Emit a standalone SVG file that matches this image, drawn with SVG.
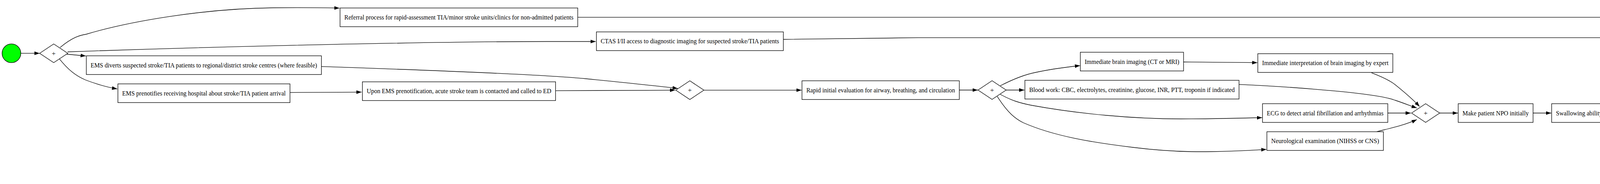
<svg xmlns="http://www.w3.org/2000/svg" width="7668" height="472" viewBox="0 0 7668 472">
<style>
.task rect{fill:#fff;stroke:#000;stroke-width:1.33}
.gw polygon{fill:#fff;stroke:#000;stroke-width:1.33}
text{font-family:"Liberation Serif","Times New Roman",serif;font-size:17.5px;fill:#000;text-anchor:middle}
.edges path{fill:none;stroke:#000;stroke-width:1.33;marker-end:url(#arr)}
</style>
<defs>
<marker id="arr" markerUnits="userSpaceOnUse" markerWidth="14" markerHeight="10" refX="13.3" refY="4.67" orient="auto">
<path d="M0,0 L13.3,4.67 L0,9.33 z" fill="#000"/>
</marker>
</defs>
<rect width="7668" height="472" fill="#fff"/>
<g class="edges">
<path d="M53.3,136.7 L101.5,136.7"/>
<path d="M154,121.7 C185,96 205,90 220,88 C330,55 520,22 700,20 C780,19 830,20 869,20.7"/>
<path d="M173,133 C600,118 1100,107 1400,106.5 L1525,106.5"/>
<path d="M171,139 L219.6,143.5"/>
<path d="M151.8,150.7 C175,180 195,195 218.7,205 C250,217 275,224 300,228"/>
<path d="M822.8,170.7 C1100,180 1400,192 1500,202 C1620,214 1690,221 1735,227"/>
<path d="M742.4,237.3 L925.7,236.3"/>
<path d="M1422.3,232.7 L1728.5,231.3"/>
<path d="M1801.8,231.3 L2052,231.3"/>
<path d="M2455.8,231 L2503,231"/>
<path d="M2560.7,220 C2590,205 2620,192 2650,186 C2700,175 2740,171 2765,168.3"/>
<path d="M2575.4,231 L2622.3,231"/>
<path d="M2560.7,242 C2590,258 2610,264 2640,270 C2760,292 2900,305 3023,305 C3120,305 3180,303 3231,301.7"/>
<path d="M2553,247.3 C2580,290 2600,305 2620,315 C2700,350 2800,366 2900,378 C2980,388 3050,390 3100,389 C3170,388 3210,385 3242,383.3"/>
<path d="M3029.9,159 L3218.8,160.7"/>
<path d="M3511,186.7 C3540,198 3560,208 3571,216.7 C3600,240 3620,258 3634,273.3"/>
<path d="M3171.9,216.7 C3300,222 3450,235 3500,242.7 C3540,248 3560,253 3571,257 C3595,265 3612,272 3627,277"/>
<path d="M3552.7,290 L3611.6,290"/>
<path d="M3524.5,337.7 C3550,331 3595,322 3627,306.7"/>
<path d="M3685.3,290 L3732,290"/>
<path d="M3924.6,290 L3971,290"/>
<path d="M4408.9,290 L4455.4,290"/>
<path d="M4512.5,279.3 L4592.9,232.7"/>
<path d="M4528.6,290.7 L4576.3,291.5"/>
<path d="M4649.6,220.7 L4695.5,220.7"/>
<path d="M4635.3,209.3 C4660,196 4675,191 4691,188 C4800,165 4940,148 5016,149 C5100,150 5200,168 5300,185 C5340,194 5360,200 5380,212.3"/>
<path d="M5318.3,223.3 L5364.3,223.3"/>
<path d="M4649.6,292.7 L5364.3,295"/>
<path d="M4641,299 L4811.6,328.3"/>
<path d="M5194.6,328.3 L5372.3,299.3"/>
<path d="M5423.2,234.3 L5500.4,279.3"/>
<path d="M5438,294.3 L5484.8,292.3"/>
<path d="M5551.8,285 C5570,279 5590,275 5600,273 L5789.7,235"/>
<path d="M5558.5,290.7 C5900,285 6600,270 7000,266 C7020,265.8 7040,265.7 7055,265.7"/>
<path d="M5554,297.7 C5570,302 5585,305 5600,308.3 L5691.5,328.3"/>
<path d="M5917,376.7 C6150,440 6450,468 6635,467 C6900,465 7200,400 7380,335 C7440,310 7455,296 7465,285 C7490,258 7507,232 7519.3,200"/>
<path d="M5852,225 L6198,182.7"/>
<path d="M5855.8,230 L6256,230"/>
<path d="M7009,170.7 L7215.8,176"/>
<path d="M6833.5,208.3 C6900,200 6960,196 7000,194 L7213.5,180"/>
<path d="M7287.2,176.7 L7492.5,176.7"/>
<path d="M7365,236.7 C7400,225 7430,218 7450,212 C7475,204 7492,196 7506,188.3"/>
<path d="M1479,44.3 L6612,44.3 C6780,44 6900,8 7066,5.7 C7160,4 7300,40 7450,96.7 C7480,112 7502,135 7517,159.3"/>
<path d="M2005.4,101 C2030,100 2100,100 2350,96.7 L6612,96.7 C6800,96 6900,85 7000,85 C7100,85 7300,110 7450,143.3 C7480,152 7495,158 7508,164.3"/>
<path d="M7566.2,176.7 L7613,176.7"/>
</g>
<g id="start"><circle cx="29.3" cy="136.7" r="24" fill="#00ff00" stroke="#000" stroke-width="1.33"/></g>
<g id="g1" class="gw"><polygon points="101.5,136.7 137.5,112.7 173.5,136.7 137.5,160.7"/><text x="137.5" y="142.5">+</text></g>
<g id="referral" class="task"><rect x="870.5" y="20.5" width="608.5" height="48"/><text x="1174.8" y="50" textLength="586.5" lengthAdjust="spacingAndGlyphs">Referral process for rapid-assessment TIA/minor stroke units/clinics for non-admitted patients</text></g>
<g id="ctas" class="task"><rect x="1526.8" y="81.8" width="478.6" height="48"/><text x="1766.1" y="111.3" textLength="456.6" lengthAdjust="spacingAndGlyphs">CTAS I/II access to diagnostic imaging for suspected stroke/TIA patients</text></g>
<g id="divert" class="task"><rect x="221" y="143.2" width="601.8" height="48"/><text x="521.9" y="172.7" textLength="579.8" lengthAdjust="spacingAndGlyphs">EMS diverts suspected stroke/TIA patients to regional/district stroke centres (where feasible)</text></g>
<g id="prenotify" class="task"><rect x="301.8" y="215.2" width="440.6" height="48"/><text x="522.1" y="244.7" textLength="418.6" lengthAdjust="spacingAndGlyphs">EMS prenotifies receiving hospital about stroke/TIA patient arrival</text></g>
<g id="upon" class="task"><rect x="927.7" y="209.9" width="494.6" height="48"/><text x="1175" y="239.4" textLength="472.6" lengthAdjust="spacingAndGlyphs">Upon EMS prenotification, acute stroke team is contacted and called to ED</text></g>
<g id="g2" class="gw"><polygon points="1730,231.3 1766,207.3 1802,231.3 1766,255.3"/><text x="1766" y="237.1">+</text></g>
<g id="rapid" class="task"><rect x="2053.1" y="207.3" width="402.7" height="48"/><text x="2254.5" y="236.8" textLength="380.7" lengthAdjust="spacingAndGlyphs">Rapid initial evaluation for airway, breathing, and circulation</text></g>
<g id="g3" class="gw"><polygon points="2503.7,231 2539.7,207 2575.7,231 2539.7,255"/><text x="2539.7" y="236.8">+</text></g>
<g id="brainimg" class="task"><rect x="2765.6" y="134" width="264.3" height="48"/><text x="2897.8" y="163.5" textLength="242.3" lengthAdjust="spacingAndGlyphs">Immediate brain imaging (CT or MRI)</text></g>
<g id="blood" class="task"><rect x="2623.7" y="206" width="548.2" height="48"/><text x="2897.8" y="235.5" textLength="526.2" lengthAdjust="spacingAndGlyphs">Blood work: CBC, electrolytes, creatinine, glucose, INR, PTT, troponin if indicated</text></g>
<g id="ecg" class="task"><rect x="3232" y="266" width="320.7" height="48"/><text x="3392.4" y="295.5" textLength="298.7" lengthAdjust="spacingAndGlyphs">ECG to detect atrial fibrillation and arrhythmias</text></g>
<g id="neuro" class="task"><rect x="3243.3" y="337.9" width="298.2" height="48"/><text x="3392.4" y="367.4" textLength="276.2" lengthAdjust="spacingAndGlyphs">Neurological examination (NIHSS or CNS)</text></g>
<g id="interp" class="task"><rect x="3220" y="137.7" width="345.6" height="48"/><text x="3392.8" y="167.2" textLength="323.6" lengthAdjust="spacingAndGlyphs">Immediate interpretation of brain imaging by expert</text></g>
<g id="g4" class="gw"><polygon points="3613.6,290 3649.6,266 3685.6,290 3649.6,314"/><text x="3649.6" y="295.8">+</text></g>
<g id="npo" class="task"><rect x="3733" y="266" width="191.6" height="48"/><text x="3828.8" y="295.5" textLength="169.6" lengthAdjust="spacingAndGlyphs">Make patient NPO initially</text></g>
<g id="swallow" class="task"><rect x="3972.3" y="266" width="436.6" height="48"/><text x="4190.6" y="295.5" textLength="414.6" lengthAdjust="spacingAndGlyphs">Swallowing ability screening (bedside protocol) before oral intake</text></g>
<g id="g5" class="gw"><polygon points="4456.9,290 4492.9,266 4528.9,290 4492.9,314"/><text x="4492.9" y="295.8">+</text></g>
<g id="xa" class="gw"><polygon points="4577,220.5 4613,196.5 4649,220.5 4613,244.5"/><text x="4613" y="226.5">X</text></g>
<g id="xb" class="gw"><polygon points="4577,292.3 4613,268.3 4649,292.3 4613,316.3"/><text x="4613" y="298.3">X</text></g>
<g id="full" class="task"><rect x="4696.9" y="200.5" width="621.4" height="48"/><text x="5007.6" y="230" textLength="599.4" lengthAdjust="spacingAndGlyphs">Full clinical swallowing assessment by SLP or trained specialist if dysphagia/aspiration features</text></g>
<g id="monitor" class="task"><rect x="4754.9" y="328.5" width="505.4" height="48"/><text x="5007.6" y="358" textLength="483.4" lengthAdjust="spacingAndGlyphs">Monitor unalert patients within 24h and screen swallowing when appropriate</text></g>
<g id="xc" class="gw"><polygon points="5366.3,223 5402.3,199 5438.3,223 5402.3,247"/><text x="5402.3" y="229">X</text></g>
<g id="xd" class="gw"><polygon points="5366.3,295 5402.3,271 5438.3,295 5402.3,319"/><text x="5402.3" y="301">X</text></g>
<g id="g6" class="gw"><polygon points="5486.3,291 5522.3,267 5558.3,291 5522.3,315"/><text x="5522.3" y="296.8">+</text></g>
<g id="xe" class="gw"><polygon points="5784,230 5820,206 5856,230 5820,254"/><text x="5820" y="236">X</text></g>
<g id="cross" class="task"><rect x="5605.8" y="328.5" width="428.6" height="48"/><text x="5820.1" y="358" textLength="406.6" lengthAdjust="spacingAndGlyphs">Cross-continuum secondary prevention assessment and therapies</text></g>
<g id="immvasc" class="task"><rect x="6082.6" y="134" width="926.4" height="48"/><text x="6545.8" y="163.5" textLength="904.4" lengthAdjust="spacingAndGlyphs">Immediate vascular imaging of neck arteries if TIA/minor stroke within 48h or fluctuating symptoms (unless not candidate for revascularization)</text></g>
<g id="vasc" class="task"><rect x="6258.5" y="206" width="575" height="48"/><text x="6546" y="235.5" textLength="553" lengthAdjust="spacingAndGlyphs">Vascular imaging of brain and neck arteries ASAP for other TIA/ischemic stroke (&gt;48h)</text></g>
<g id="xf" class="gw"><polygon points="7215.5,176.7 7251.5,152.7 7287.5,176.7 7251.5,200.7"/><text x="7251.5" y="182.7">X</text></g>
<g id="triage" class="task"><rect x="7056.4" y="236.5" width="390.2" height="48"/><text x="7251.5" y="266" textLength="368.2" lengthAdjust="spacingAndGlyphs">Standardized triage tool to determine care location for TIA</text></g>
<g id="gend" class="gw"><polygon points="7494,176.7 7530,152.7 7566,176.7 7530,200.7"/><text x="7530" y="182.5">+</text></g>
<g id="end"><circle cx="7638.3" cy="176.7" r="24" fill="#ffa500" stroke="#000" stroke-width="1.33"/></g>
</svg>
